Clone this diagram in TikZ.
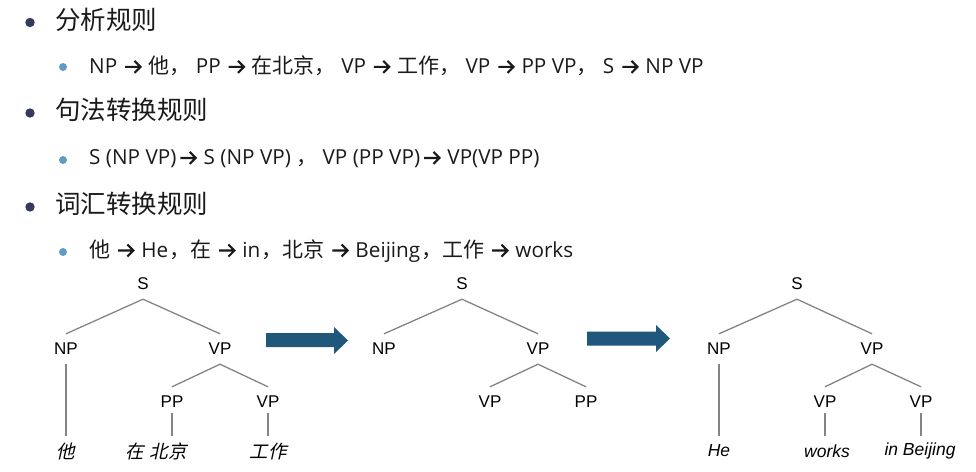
\documentclass[tikz,border=0pt]{standalone}
\usepackage{fontspec}
\setmainfont{Open Sans}
\newfontfamily\cjk{Noto Sans CJK SC}
\newfontfamily\cjkit[FakeSlant=0.22]{Noto Sans CJK SC}
\newfontfamily\treefont{Liberation Sans}
\newcommand{\zh}[1]{{\cjk #1}}
\definecolor{hdcol}{RGB}{26,26,26}
\definecolor{bulA}{RGB}{52,58,94}
\definecolor{bulB}{RGB}{96,155,198}
\definecolor{arrcol}{RGB}{31,88,122}
\definecolor{edgecol}{RGB}{132,132,132}
\newsavebox\arrbox
\sbox\arrbox{\hspace{1.5pt}\begin{pgfpicture}\pgfsetbaseline{0pt}\pgfsetlinewidth{2.1pt}\pgfsetstrokecolor{hdcol}\pgfsetmiterjoin
\pgfpathmoveto{\pgfpoint{0.3pt}{6.9pt}}\pgfpathlineto{\pgfpoint{15.6pt}{6.9pt}}%
\pgfpathmoveto{\pgfpoint{9.6pt}{12.9pt}}\pgfpathlineto{\pgfpoint{15.6pt}{6.9pt}}\pgfpathlineto{\pgfpoint{9.6pt}{0.9pt}}%
\pgfusepath{stroke}\end{pgfpicture}\hspace{1.5pt}}
\newcommand{\ra}{\usebox\arrbox}
\newcommand{\zf}{\fontsize{21}{22}\selectfont}
\begin{document}
\begin{tikzpicture}[x=1pt,y=-1pt,
  head/.style={anchor=west,inner sep=0,text=hdcol,font=\cjk\fontsize{25.5}{28}\selectfont},
  sub/.style={anchor=west,inner sep=0,text=hdcol,font=\fontsize{20.7}{22}\selectfont},
  tn/.style={inner sep=0,minimum height=30pt,font=\treefont\fontsize{17}{19}\selectfont},
  leaf/.style={tn,font=\treefont\itshape\fontsize{17.5}{19}\selectfont},
  zleaf/.style={tn,font=\cjkit\fontsize{18.5}{20}\selectfont},
  edge/.style={draw=edgecol,line width=1.3pt},
  bigarrow/.style={fill=arrcol}]
\useasboundingbox (0,0) rectangle (976,471);
% bullets and text
\fill[bulA] (30,22.5) circle (4.7);
\node[head] (h1) at (55,20) {分析规则};
\fill[bulB] (63,67) circle (4);
\node[sub] (s1) at (89,66) {NP \ra\ \zh{\zf 他，} PP \ra\ \zh{\zf 在北京，} VP \ra\ \zh{\zf 工作，} VP \ra\ PP VP\zh{\zf ，} S \ra\ NP VP};
\fill[bulA] (30,113) circle (4.7);
\node[head] (h2) at (55,110) {句法转换规则};
\fill[bulB] (63,160) circle (4);
\node[sub] (s2) at (89,159) {S (NP VP)\hspace{1.5pt}\ra\ S (NP VP) \zh{\zf ，} VP (PP VP)\hspace{1.5pt}\ra\ VP(VP PP)};
\fill[bulA] (30,207) circle (4.7);
\node[head] (h3) at (55,204) {词汇转换规则};
\fill[bulB] (63,252) circle (4);
\node[sub] (s3) at (89,251) {\zh{\zf 他} \ra\ He\hspace{1pt}\zh{\zf ，在} \ra\ in\hspace{1pt}\zh{\zf ，北京} \ra\ Beijing\hspace{1pt}\zh{\zf ，工作} \ra\ works};
% tree 1
\node[tn] (aS) at (143,284) {S};
\node[tn] (aNP) at (66,349) {NP};
\node[tn] (aVP) at (220,349) {VP};
\node[tn] (aPP) at (172,402) {PP};
\node[tn] (aVP2) at (268,402) {VP};
\node[zleaf] (aw1) at (66,451) {他};
\node[zleaf] (aw2) at (156,451) {在\hspace{0.35em}北京};
\node[zleaf] (aw3) at (268,451) {工作};
\path[edge] (aS.south) -- (aNP.north);
\path[edge] (aS.south) -- (aVP.north);
\path[edge] (aNP.south) -- (aw1.north);
\path[edge] (aVP.south) -- (aPP.north);
\path[edge] (aVP.south) -- (aVP2.north);
\path[edge,shorten <=-4pt] (aPP.south) -- (aPP.south |- aw2.north);
\path[edge,shorten <=-4pt] (aVP2.south) -- (aw3.north);
% arrow 1
\path[bigarrow] (266,333) -- (334,333) -- (334,327) -- (348,340.5) -- (334,354) -- (334,347) -- (266,347) -- cycle;
% tree 2
\node[tn] (bS) at (462,284) {S};
\node[tn] (bNP) at (384,349) {NP};
\node[tn] (bVP) at (538,349) {VP};
\node[tn] (bVP2) at (490,402) {VP};
\node[tn] (bPP) at (586,402) {PP};
\path[edge] (bS.south) -- (bNP.north);
\path[edge] (bS.south) -- (bVP.north);
\path[edge] (bVP.south) -- (bVP2.north);
\path[edge] (bVP.south) -- (bPP.north);
% arrow 2
\path[bigarrow] (587,331.5) -- (656,331.5) -- (656,325) -- (670,338.5) -- (656,352) -- (656,345.5) -- (587,345.5) -- cycle;
% tree 3
\node[tn] (cS) at (797,284) {S};
\node[tn] (cNP) at (719,349) {NP};
\node[tn] (cVP) at (872,349) {VP};
\node[tn] (cVP1) at (825,402) {VP};
\node[tn] (cVP2) at (921,402) {VP};
\node[leaf] (cw1) at (719,451) {He};
\node[leaf] (cw2) at (827,451) {works};
\node[leaf] (cw3) at (920,451) {in Beijing};
\path[edge] (cS.south) -- (cNP.north);
\path[edge] (cS.south) -- (cVP.north);
\path[edge] (cNP.south) -- (cw1.north);
\path[edge] (cVP.south) -- (cVP1.north);
\path[edge] (cVP.south) -- (cVP2.north);
\path[edge,shorten <=-4pt] (cVP1.south) -- (cVP1.south |- cw2.north);
\path[edge,shorten <=-4pt] (cVP2.south) -- (cVP2.south |- cw3.north);
\end{tikzpicture}
\end{document}
